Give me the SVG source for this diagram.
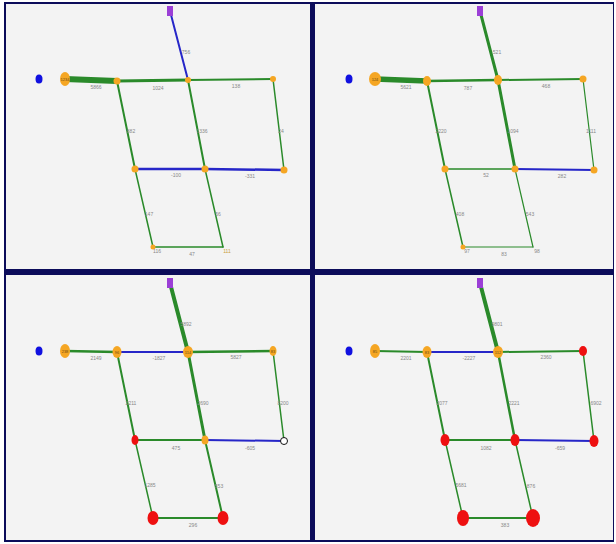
<svg xmlns="http://www.w3.org/2000/svg" width="616" height="544" viewBox="0 0 616 544">
<style>
.g{stroke:#2a8a2a;fill:none;stroke-linecap:round}
.b{stroke:#2626c8;fill:none;stroke-linecap:round}
.o{fill:#f5a623}
.r{fill:#ee1010}
.bl{fill:#1010e0}
.pu{fill:#9b3fd6}
.w{fill:#fff;stroke:#111;stroke-width:1}
.lbl{font-family:"Liberation Sans",Arial,sans-serif;font-size:5px;fill:#888;text-anchor:middle}
.nl{font-family:"Liberation Sans",Arial,sans-serif;font-size:4px;fill:#6a4a10;text-anchor:middle}
.panel{fill:#f3f3f3}
</style>
<rect width="616" height="544" fill="#fff"/>
<rect x="4" y="2" width="610" height="540" fill="#0c0c5a"/>
<rect class="panel" x="6" y="4" width="304" height="265"/>
<rect class="panel" x="315" y="4" width="298" height="265"/>
<rect class="panel" x="6" y="275" width="304" height="265"/>
<rect class="panel" x="315" y="275" width="298" height="265"/>

<!-- Panel 1 (top-left) -->
<g id="p1">
<g id="p1-edges">
<line class="g" x1="65" y1="79" x2="117" y2="81" stroke-width="6"/>
<line class="g" x1="117" y1="81" x2="188" y2="80" stroke-width="3"/>
<line class="g" x1="188" y1="80" x2="273" y2="79" stroke-width="2"/>
<line class="b" x1="170" y1="11" x2="188" y2="80" stroke-width="2"/>
<line class="g" x1="117" y1="81" x2="135" y2="169" stroke-width="2"/>
<line class="g" x1="188" y1="80" x2="205" y2="169" stroke-width="2"/>
<line class="g" x1="273" y1="79" x2="284" y2="170" stroke-width="1.5"/>
<line class="b" x1="135" y1="169" x2="205" y2="169" stroke-width="2.5"/>
<line class="b" x1="205" y1="169" x2="284" y2="170" stroke-width="2.5"/>
<line class="g" x1="135" y1="169" x2="153" y2="247" stroke-width="1.5"/>
<line class="g" x1="205" y1="169" x2="223" y2="247" stroke-width="1.5"/>
<line class="g" x1="153" y1="247" x2="223" y2="247" stroke-width="1.5"/>
<text class="lbl" x="96" y="89">5866</text>
<text class="lbl" x="158" y="90">1024</text>
<text class="lbl" x="236" y="88">138</text>
<text class="lbl" x="186" y="54">756</text>
<text class="lbl" x="131" y="133">882</text>
<text class="lbl" x="202" y="133">1336</text>
<text class="lbl" x="281" y="133">24</text>
<text class="lbl" x="176" y="177">-100</text>
<text class="lbl" x="250" y="178">-331</text>
<text class="lbl" x="149" y="216">147</text>
<text class="lbl" x="218" y="216">56</text>
<text class="lbl" x="192" y="256">47</text>
</g>
<g id="p1-n0"><ellipse class="bl" cx="39" cy="79" rx="3.5" ry="4.5"/></g>
<g id="p1-n1"><ellipse class="o" cx="65" cy="79" rx="5" ry="7"/><text class="nl" x="65" y="81">1234</text></g>
<g id="p1-n2"><circle class="o" cx="117" cy="81" r="3.5"/></g>
<g id="p1-n3"><circle class="o" cx="188" cy="80" r="3"/></g>
<g id="p1-n4"><circle class="o" cx="273" cy="79" r="3"/></g>
<g id="p1-n5"><rect class="pu" x="167" y="6" width="6" height="10"/></g>
<g id="p1-n6"><circle class="o" cx="135" cy="169" r="3.5"/></g>
<g id="p1-n7"><circle class="o" cx="205" cy="169" r="3.5"/></g>
<g id="p1-n8"><circle class="o" cx="284" cy="170" r="3.5"/></g>
<g id="p1-n9"><circle class="o" cx="153" cy="247" r="2.5"/><text class="lbl" x="157" y="253">116</text></g>
<g id="p1-n10"><text class="lbl" x="227" y="253" style="fill:#c9a040">111</text></g>
</g>

<!-- Panel 2 (top-right) -->
<g id="p2" transform="translate(310,0)">
<g id="p2-edges">
<line class="g" x1="65" y1="79" x2="117" y2="81" stroke-width="5.5"/>
<line class="g" x1="117" y1="81" x2="188" y2="80" stroke-width="2.5"/>
<line class="g" x1="188" y1="80" x2="273" y2="79" stroke-width="2"/>
<line class="g" x1="170" y1="11" x2="188" y2="80" stroke-width="3"/>
<line class="g" x1="117" y1="81" x2="135" y2="169" stroke-width="2"/>
<line class="g" x1="188" y1="80" x2="205" y2="169" stroke-width="3"/>
<line class="g" x1="273" y1="79" x2="284" y2="170" stroke-width="1.2"/>
<line class="g" x1="135" y1="169" x2="205" y2="169" stroke-width="1.5"/>
<line class="b" x1="205" y1="169" x2="284" y2="170" stroke-width="2"/>
<line class="g" x1="135" y1="169" x2="153" y2="247" stroke-width="1.5"/>
<line class="g" x1="205" y1="169" x2="223" y2="247" stroke-width="1.2"/>
<line class="g" x1="153" y1="247" x2="223" y2="247" stroke-width="1.2"/>
<text class="lbl" x="96" y="89">5621</text>
<text class="lbl" x="158" y="90">787</text>
<text class="lbl" x="236" y="88">468</text>
<text class="lbl" x="187" y="54">521</text>
<text class="lbl" x="131" y="133">2220</text>
<text class="lbl" x="203" y="133">1094</text>
<text class="lbl" x="281" y="133">1111</text>
<text class="lbl" x="176" y="177">52</text>
<text class="lbl" x="252" y="178">282</text>
<text class="lbl" x="150" y="216">408</text>
<text class="lbl" x="220" y="216">543</text>
<text class="lbl" x="194" y="256">83</text>
</g>
<g id="p2-n0"><ellipse class="bl" cx="39" cy="79" rx="3.5" ry="4.5"/></g>
<g id="p2-n1"><ellipse class="o" cx="65" cy="79" rx="6" ry="7"/><text class="nl" x="65" y="81">124</text></g>
<g id="p2-n2"><ellipse class="o" cx="117" cy="81" rx="4" ry="5"/></g>
<g id="p2-n3"><ellipse class="o" cx="188" cy="80" rx="4" ry="5"/></g>
<g id="p2-n4"><circle class="o" cx="273" cy="79" r="3.5"/></g>
<g id="p2-n5"><rect class="pu" x="167" y="6" width="6" height="10"/></g>
<g id="p2-n6"><circle class="o" cx="135" cy="169" r="3.5"/></g>
<g id="p2-n7"><circle class="o" cx="205" cy="169" r="3.5"/></g>
<g id="p2-n8"><circle class="o" cx="284" cy="170" r="3.5"/></g>
<g id="p2-n9"><circle class="o" cx="153" cy="247" r="2.5"/><text class="lbl" x="157" y="253">97</text></g>
<g id="p2-n10"><text class="lbl" x="227" y="253">98</text></g>
</g>

<!-- Panel 3 (bottom-left) -->
<g id="p3" transform="translate(0,271)">
<g id="p3-edges">
<line class="g" x1="65" y1="80" x2="117" y2="81" stroke-width="2.5"/>
<line class="b" x1="117" y1="81" x2="188" y2="81" stroke-width="2"/>
<line class="g" x1="188" y1="81" x2="273" y2="80" stroke-width="2.5"/>
<line class="g" x1="170" y1="12" x2="188" y2="81" stroke-width="4"/>
<line class="g" x1="117" y1="81" x2="135" y2="169" stroke-width="2"/>
<line class="g" x1="188" y1="81" x2="205" y2="169" stroke-width="3"/>
<line class="g" x1="273" y1="80" x2="284" y2="170" stroke-width="1.5"/>
<line class="g" x1="135" y1="169" x2="205" y2="169" stroke-width="2"/>
<line class="b" x1="205" y1="169" x2="284" y2="170" stroke-width="2"/>
<line class="g" x1="135" y1="169" x2="153" y2="247" stroke-width="1.5"/>
<line class="g" x1="205" y1="169" x2="223" y2="247" stroke-width="2"/>
<line class="g" x1="153" y1="247" x2="223" y2="247" stroke-width="2"/>
<text class="lbl" x="96" y="89">2149</text>
<text class="lbl" x="159" y="89">-1827</text>
<text class="lbl" x="236" y="88">5827</text>
<text class="lbl" x="186" y="55">5892</text>
<text class="lbl" x="131" y="134">2211</text>
<text class="lbl" x="203" y="134">2690</text>
<text class="lbl" x="283" y="134">8200</text>
<text class="lbl" x="176" y="179">475</text>
<text class="lbl" x="250" y="179">-605</text>
<text class="lbl" x="150" y="216">1285</text>
<text class="lbl" x="219" y="217">553</text>
<text class="lbl" x="193" y="256">296</text>
</g>
<g id="p3-n0"><ellipse class="bl" cx="39" cy="80" rx="3.5" ry="4.5"/></g>
<g id="p3-n1"><ellipse class="o" cx="65" cy="80" rx="5" ry="7"/><text class="nl" x="65" y="82">238</text></g>
<g id="p3-n2"><ellipse class="o" cx="117" cy="81" rx="4.5" ry="6"/><text class="nl" x="117" y="83">96</text></g>
<g id="p3-n3"><ellipse class="o" cx="188" cy="81" rx="5" ry="6"/><text class="nl" x="188" y="83">114</text></g>
<g id="p3-n4"><ellipse class="o" cx="273" cy="80" rx="3.5" ry="5"/><text class="nl" x="273" y="82">83</text></g>
<g id="p3-n5"><rect class="pu" x="167" y="7" width="6" height="10"/></g>
<g id="p3-n6"><ellipse class="r" cx="135" cy="169" rx="3.5" ry="5"/></g>
<g id="p3-n7"><ellipse class="o" cx="205" cy="169" rx="3.5" ry="4.5"/></g>
<g id="p3-n8"><circle class="w" cx="284" cy="170" r="3.5"/></g>
<g id="p3-n9"><ellipse class="r" cx="153" cy="247" rx="5.5" ry="7"/></g>
<g id="p3-n10"><ellipse class="r" cx="223" cy="247" rx="5.5" ry="7"/></g>
</g>

<!-- Panel 4 (bottom-right) -->
<g id="p4" transform="translate(310,271)">
<g id="p4-edges">
<line class="g" x1="65" y1="80" x2="117" y2="81" stroke-width="2"/>
<line class="b" x1="117" y1="81" x2="188" y2="81" stroke-width="2"/>
<line class="g" x1="188" y1="81" x2="273" y2="80" stroke-width="2"/>
<line class="g" x1="170" y1="12" x2="188" y2="81" stroke-width="4"/>
<line class="g" x1="117" y1="81" x2="135" y2="169" stroke-width="2"/>
<line class="g" x1="188" y1="81" x2="205" y2="169" stroke-width="2.5"/>
<line class="g" x1="273" y1="80" x2="284" y2="170" stroke-width="1.5"/>
<line class="g" x1="135" y1="169" x2="205" y2="169" stroke-width="2"/>
<line class="b" x1="205" y1="169" x2="284" y2="170" stroke-width="2"/>
<line class="g" x1="135" y1="169" x2="153" y2="247" stroke-width="1.5"/>
<line class="g" x1="205" y1="169" x2="223" y2="247" stroke-width="1.5"/>
<line class="g" x1="153" y1="247" x2="223" y2="247" stroke-width="2"/>
<text class="lbl" x="96" y="89">2201</text>
<text class="lbl" x="159" y="89">-2227</text>
<text class="lbl" x="236" y="88">2360</text>
<text class="lbl" x="187" y="55">9801</text>
<text class="lbl" x="132" y="134">2077</text>
<text class="lbl" x="204" y="134">2221</text>
<text class="lbl" x="286" y="134">6902</text>
<text class="lbl" x="176" y="179">1082</text>
<text class="lbl" x="250" y="179">-659</text>
<text class="lbl" x="151" y="216">5681</text>
<text class="lbl" x="221" y="217">876</text>
<text class="lbl" x="195" y="256">383</text>
</g>
<g id="p4-n0"><ellipse class="bl" cx="39" cy="80" rx="3.5" ry="4.5"/></g>
<g id="p4-n1"><ellipse class="o" cx="65" cy="80" rx="5" ry="7"/><text class="nl" x="65" y="82">85</text></g>
<g id="p4-n2"><ellipse class="o" cx="117" cy="81" rx="4.5" ry="6"/><text class="nl" x="117" y="83">83</text></g>
<g id="p4-n3"><ellipse class="o" cx="188" cy="81" rx="5" ry="6"/><text class="nl" x="188" y="83">112</text></g>
<g id="p4-n4"><ellipse class="r" cx="273" cy="80" rx="4" ry="5"/></g>
<g id="p4-n5"><rect class="pu" x="167" y="7" width="6" height="10"/></g>
<g id="p4-n6"><ellipse class="r" cx="135" cy="169" rx="4.5" ry="6"/></g>
<g id="p4-n7"><ellipse class="r" cx="205" cy="169" rx="4.5" ry="6"/></g>
<g id="p4-n8"><ellipse class="r" cx="284" cy="170" rx="4.5" ry="6"/></g>
<g id="p4-n9"><ellipse class="r" cx="153" cy="247" rx="6" ry="8"/></g>
<g id="p4-n10"><ellipse class="r" cx="223" cy="247" rx="7" ry="9"/></g>
</g>
</svg>
